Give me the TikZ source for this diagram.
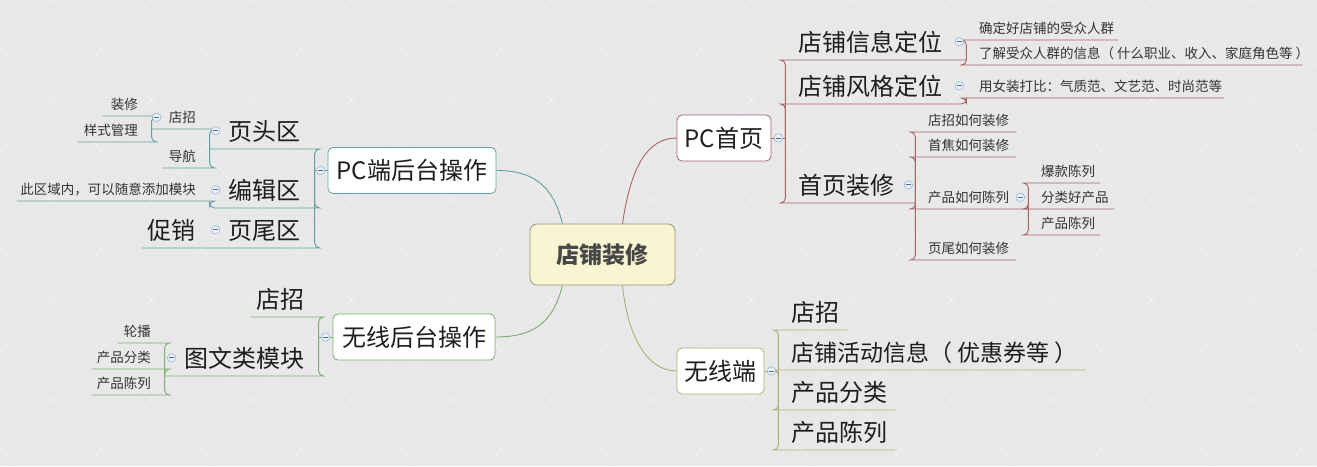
\documentclass[tikz,border=0pt]{standalone}
\usepackage{fontspec}
\setmainfont{Noto Sans CJK SC}
\usepackage{xcolor}
\definecolor{bgfill}{HTML}{E8E8E8}
\definecolor{pcred}{RGB}{170,100,100}
\definecolor{pcteal}{RGB}{100,160,160}
\definecolor{wlgreen}{RGB}{120,175,110}
\definecolor{wlolive}{RGB}{175,175,120}
\definecolor{rootfill}{HTML}{F7F5D2}
\definecolor{rootline}{RGB}{150,150,120}
\definecolor{foldline}{RGB}{150,180,215}
\definecolor{foldfill}{RGB}{232,240,250}
\definecolor{inkdark}{HTML}{1E1E1E}

\begin{document}
\begin{tikzpicture}[x=1pt, y=-1pt]
% Define styles
\tikzstyle{root} = [rectangle, rounded corners=7pt, minimum width=145, minimum height=61, draw=rootline, fill=rootfill, line width=0.8pt, text=black!72, font=\bfseries\fontsize{23}{25}\selectfont]
\tikzstyle{topic} = [rectangle, rounded corners=5pt, minimum height=46, fill=white, line width=0.8pt, text=inkdark, font=\fontsize{24}{26}\selectfont]
\tikzstyle{big} = [text=inkdark, font=\fontsize{24}{26}\selectfont, text height=24pt, text depth=5pt, inner ysep=3.5pt]
\tikzstyle{small} = [text=black!80, font=\fontsize{13.5}{15}\selectfont, text height=13pt, text depth=3pt, inner ysep=3.5pt]
\tikzstyle{rt} = [anchor=south west, inner xsep=0pt, align=left, execute at begin node={\kern13pt}]
\tikzstyle{lt} = [anchor=south east, inner xsep=0pt, align=right, execute at end node={\kern14pt}]
\tikzstyle{fold} = [circle, minimum size=8.5, inner sep=0pt, draw=foldline, fill=foldfill, line width=0.6pt, path picture={\draw[foldline!60!black, line width=0.7pt] ([xshift=-2.2pt]path picture bounding box.center) -- ([xshift=2.2pt]path picture bounding box.center);}]
\tikzstyle{redline} = [draw=pcred, line width=0.9pt, rounded corners=5pt]
\tikzstyle{tealline} = [draw=pcteal, line width=0.9pt, rounded corners=5pt]
\tikzstyle{greenline} = [draw=wlgreen, line width=0.9pt, rounded corners=5pt]
\tikzstyle{oliveline} = [draw=wlolive, line width=0.9pt, rounded corners=5pt]
\tikzstyle{bgline} = [draw=white, opacity=0.35, line width=1pt]
% Background
\useasboundingbox (0,0) rectangle (1317,466);
\fill[bgfill] (0,0) rectangle (1317,466);
\begin{scope}
\clip (0,0) rectangle (1317,466);
\foreach \i in {-449,-349,...,1751} {
  \draw[bgline] (\i,0) -- ++(466,466);
  \draw[bgline] (\i,0) -- ++(-466,466);
}
\end{scope}
% Main topics
\node (root) [root] at (602.5,254.5) {店铺装修};
\node (pc) [topic, draw=pcred, minimum width=94] at (724,138) {PC首页};
\node (wl) [topic, draw=wlolive, minimum width=87] at (720.5,371) {无线端};
\node (pcb) [topic, draw=pcteal, minimum width=168] at (412,170.5) {PC端后台操作};
\node (wlb) [topic, draw=wlgreen, minimum width=162] at (414,337) {无线后台操作};
\coordinate (pcj) at ([xshift=14pt]pc.east);
\coordinate (wlj) at ([xshift=14pt]wl.east);
\coordinate (pcbj) at ([xshift=-13pt]pcb.west);
\coordinate (wlbj) at ([xshift=-14pt]wlb.west);
% PC首页 branch
\node (info) [rt, big, text width=181] at (785,60) {店铺信息定位};
\node (style) [rt, big, text width=181] at (785,104) {店铺风格定位};
\node (home) [rt, big, text width=130] at (785,203) {首页装修};
\node (aud) [rt, small, text width=152] at (966,40) {确定好店铺的受众人群};
\node (know) [rt, small, text width=336] at (966,65) {了解受众人群的信息（\kern3pt 什么职业、收入、家庭角色等\kern3pt ）};
\node (cmp) [rt, small, text width=258] at (966,98) {用女装打比：气质范、文艺范、时尚范等};
\node (h1) [rt, small, text width=101] at (915,132) {店招如何装修};
\node (h2) [rt, small, text width=101] at (915,157) {首焦如何装修};
\node (h3) [rt, small, text width=113] at (915,209) {产品如何陈列};
\node (h4) [rt, small, text width=101] at (915,260) {页尾如何装修};
\node (p1) [rt, small, text width=72] at (1028,183) {爆款陈列};
\node (p2) [rt, small, text width=86] at (1028,209) {分类好产品};
\node (p3) [rt, small, text width=72] at (1028,235) {产品陈列};
% 无线端 branch
\node (wsign) [rt, big, text width=69] at (778,330) {店招};
\node (wact) [rt, big, text width=307, font=\fontsize{23}{25}\selectfont] at (778,370) {店铺活动信息（\kern5pt 优惠券等\kern5pt ）};
\node (wcat) [rt, big, text width=117] at (778,410) {产品分类};
\node (wlist) [rt, big, text width=117] at (778,450) {产品陈列};
% PC端后台操作 branch
\node (head) [lt, big, text width=105] at (315,149) {页头区};
\node (edit) [lt, big, text width=105] at (315,208) {编辑区};
\node (foot) [lt, big, text width=105] at (315,248) {页尾区};
\node (sign) [lt, small, text width=58] at (210,129) {店招};
\node (nav) [lt, small, text width=47] at (210,168) {导航};
\node (deco) [lt, small, text width=49] at (152,116) {装修};
\node (skin) [lt, small, text width=74] at (152,142) {样式管理};
\node (area) [lt, small, text width=193] at (210,201) {此区域内，可以随意添加模块};
\node (promo) [lt, big, text width=68] at (210,248) {促销};
% 无线后台操作 branch
\node (msign) [lt, big, text width=68] at (319,317) {店招};
\node (graph) [lt, big, text width=154] at (319,376) {图文类模块};
\node (slide) [lt, small, text width=47] at (165,343) {轮播};
\node (mcat) [lt, small, text width=73] at (165,369) {产品分类};
\node (mlist) [lt, small, text width=73] at (165,395) {产品陈列};
% Draw connectors
\draw [redline] ([xshift=20pt]root.north) .. controls +(8,-55) and +(-30,0) .. (pc.west);
\draw [tealline] ([xshift=-40pt]root.north) .. controls +(-10,-40) and +(35,0) .. (pcb.east);
\draw [greenline] ([xshift=-40pt]root.south) .. controls +(-10,40) and +(35,0) .. (wlb.east);
\draw [oliveline] ([xshift=20pt]root.south) .. controls +(5,50) and +(-30,0) .. (wl.west);
\draw [redline] (pc.east) -- (pcj);
\draw [redline] (pcj) |- (info.south west) -- (info.south east);
\draw [redline] (pcj) |- (style.south west) -- (style.south east) |- (cmp.south west) -- (cmp.south east);
\draw [redline] (pcj) |- (home.south west) -- (home.south east);
\draw [redline] (info.south east) |- (aud.south west) -- (aud.south east);
\draw [redline] (info.south east) |- (know.south west) -- (know.south east);
\draw [redline] (home.south east) |- (h1.south west) -- (h1.south east);
\draw [redline] (home.south east) |- (h2.south west) -- (h2.south east);
\draw [redline] (home.south east) |- (h3.south west) -- (h3.south east);
\draw [redline] (home.south east) |- (h4.south west) -- (h4.south east);
\draw [redline] (h3.south east) |- (p1.south west) -- (p1.south east);
\draw [redline] (h3.south east) |- (p2.south west) -- (p2.south east);
\draw [redline] (h3.south east) |- (p3.south west) -- (p3.south east);
\draw [oliveline] (wl.east) -- (wlj);
\draw [oliveline] (wlj) |- (wsign.south west) -- (wsign.south east);
\draw [oliveline] (wlj) |- (wact.south west) -- (wact.south east);
\draw [oliveline] (wlj) |- (wcat.south west) -- (wcat.south east);
\draw [oliveline] (wlj) |- (wlist.south west) -- (wlist.south east);
\draw [tealline] (pcb.west) -- (pcbj);
\draw [tealline] (pcbj) |- (head.south east) -- (head.south west);
\draw [tealline] (pcbj) |- (edit.south east) -- (edit.south west) |- (area.south east) -- (area.south west);
\draw [tealline] (pcbj) |- (foot.south east) -- (foot.south west) -- (promo.south west);
\draw [tealline] (head.south west) |- (sign.south east) -- (sign.south west);
\draw [tealline] (head.south west) |- (nav.south east) -- (nav.south west);
\draw [tealline] (sign.south west) |- (deco.south east) -- (deco.south west);
\draw [tealline] (sign.south west) |- (skin.south east) -- (skin.south west);
\draw [greenline] (wlb.west) -- (wlbj);
\draw [greenline] (wlbj) |- (msign.south east) -- (msign.south west);
\draw [greenline] (wlbj) |- (graph.south east) -- (graph.south west);
\draw [greenline] (graph.south west) |- (slide.south east) -- (slide.south west);
\draw [greenline] (graph.south west) |- (mcat.south east) -- (mcat.south west);
\draw [greenline] (graph.south west) |- (mlist.south east) -- (mlist.south west);
% Fold markers
\node [fold] at ([xshift=7pt]pc.east) {};
\node [fold] at ([xshift=-7pt]info.east) {};
\node [fold] at ([xshift=-7pt]style.east) {};
\node [fold] at ([xshift=-7pt]home.east) {};
\node [fold] at ([xshift=-8pt]h3.east) {};
\node [fold] at ([xshift=7pt]wl.east) {};
\node [fold] at ([xshift=-7pt]pcb.west) {};
\node [fold] at ([xshift=6pt]head.west) {};
\node [fold] at ([xshift=6pt]edit.west) {};
\node [fold] at ([xshift=6pt]foot.west) {};
\node [fold] at ([xshift=5pt]sign.west) {};
\node [fold] at ([xshift=-7pt]wlb.west) {};
\node [fold] at ([xshift=7pt]graph.west) {};
\end{tikzpicture}
\end{document}
